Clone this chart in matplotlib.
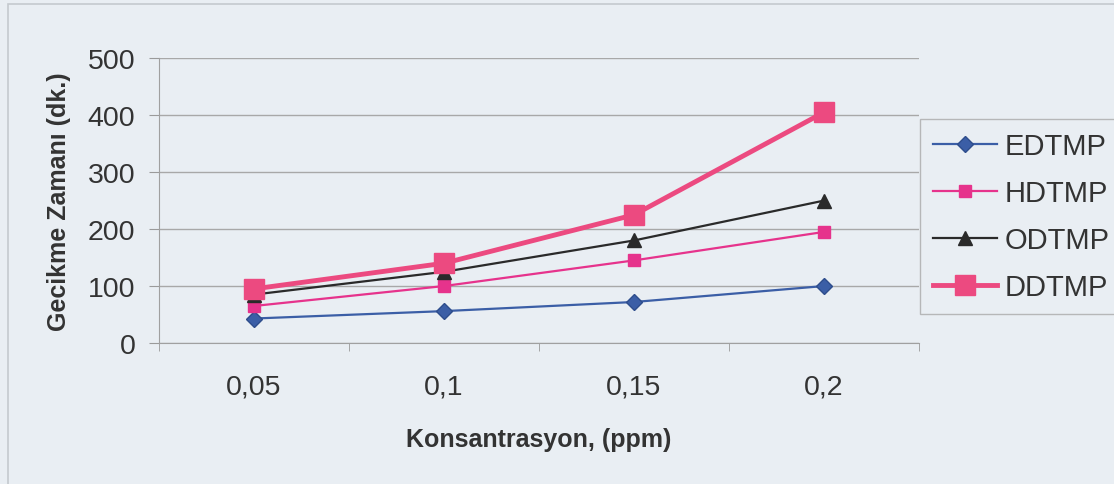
import matplotlib.pyplot as plt
from matplotlib.patches import Rectangle
from matplotlib.ticker import FixedLocator, NullFormatter

plt.rcParams['font.family'] = ['Liberation Sans', 'DejaVu Sans']

concentrations = ["0,05", "0,1", "0,15", "0,2"]
edtmp = [43, 56, 72, 100]
hdtmp = [65, 100, 145, 195]
odtmp = [85, 125, 180, 250]
ddtmp = [95, 140, 225, 405]

bg = "#e9eef3"
fig = plt.figure(figsize=(11.14, 4.85), dpi=100, facecolor=bg)

# thin outer frame of the chart area
fig.patches.append(Rectangle((8 / 1114, -0.1), 1.2, (485 - 5) / 485 + 0.1,
                             transform=fig.transFigure, fill=False,
                             edgecolor="#c4c9ce", lw=1.2))

ax = fig.add_axes([0.1427, 0.2907, 0.6823, 0.5873], facecolor=bg)

x = range(len(concentrations))
ax.plot(x, edtmp, color="#3b5ea6", lw=1.6, marker="D", ms=8, mfc="#3b5ea6", mec="#2e4d8c", label="EDTMP")
ax.plot(x, hdtmp, color="#e6338c", lw=1.6, marker="s", ms=9, mfc="#e6338c", mec="#e6338c", label="HDTMP")
ax.plot(x, odtmp, color="#2a2a2a", lw=1.6, marker="^", ms=10, mfc="#2a2a2a", mec="#2a2a2a", label="ODTMP")
ax.plot(x, ddtmp, color="#ec4a80", lw=3.5, marker="s", ms=15, mfc="#ec4a80", mec="#ec4a80", label="DDTMP")

ax.set_xlim(-0.5, len(concentrations) - 0.5)
ax.set_ylim(0, 500)
ax.set_yticks(range(0, 501, 100))
ax.set_xticks(list(x))
ax.set_xticklabels(concentrations)
ax.xaxis.set_minor_locator(FixedLocator([i + 0.5 for i in range(-1, len(concentrations))]))
ax.xaxis.set_minor_formatter(NullFormatter())
ax.tick_params(axis="x", which="major", length=0, labelsize=20.5, colors="#333333", pad=22)
ax.tick_params(axis="x", which="minor", length=6, color="#9a9a9a")
ax.tick_params(axis="y", length=7, color="#9a9a9a", labelsize=20.5, labelcolor="#333333", pad=10)

ax.grid(axis="y", color="#a8a8a8", lw=1)
ax.set_axisbelow(True)
for side in ("top", "right"):
    ax.spines[side].set_visible(False)
for side in ("left", "bottom"):
    ax.spines[side].set_color("#a0a0a0")

ax.set_xlabel("Konsantrasyon, (ppm)", fontsize=18, fontweight="bold", color="#333333", labelpad=20)
ax.set_ylabel("Gecikme Zamanı (dk.)", fontsize=18, fontweight="bold", color="#333333", labelpad=12)

leg = fig.legend(loc="upper left", bbox_to_anchor=(920 / 1114, (485 - 120) / 485),
                 fontsize=21, frameon=True, fancybox=False, handlelength=2.2,
                 handletextpad=0.25, labelspacing=0.65, borderpad=0.45, borderaxespad=0,
                 labelcolor="#333333")
leg.get_frame().set_edgecolor("#aaaaaa")
leg.get_frame().set_facecolor(bg)
leg.get_frame().set_linewidth(1)

fig.savefig("out.png", dpi=100, facecolor=bg)
